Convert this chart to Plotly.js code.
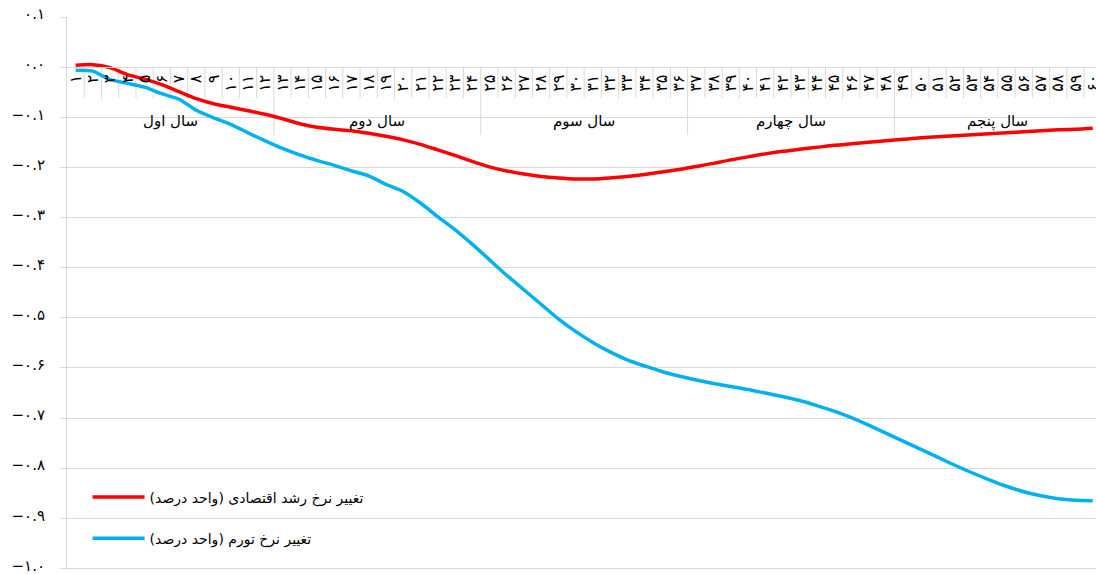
<!DOCTYPE html>
<html>
<head>
<meta charset="utf-8">
<script src="https://cdn.plot.ly/plotly-3.0.1.min.js"></script>
<style>
html,body{margin:0;padding:0;background:#fff;overflow:hidden;}
#chart{width:1096px;height:574px;}
</style>
</head>
<body>
<div id="chart"></div>
<script>
const months = ['۱','۲','۳','۴','۵','۶','۷','۸','۹','۱۰','۱۱','۱۲','۱۳','۱۴','۱۵','۱۶','۱۷','۱۸','۱۹','۲۰','۲۱','۲۲','۲۳','۲۴','۲۵','۲۶','۲۷','۲۸','۲۹','۳۰','۳۱','۳۲','۳۳','۳۴','۳۵','۳۶','۳۷','۳۸','۳۹','۴۰','۴۱','۴۲','۴۳','۴۴','۴۵','۴۶','۴۷','۴۸','۴۹','۵۰','۵۱','۵۲','۵۳','۵۴','۵۵','۵۶','۵۷','۵۸','۵۹','۶۰'];
const years = ['سال اول','سال دوم','سال سوم','سال چهارم','سال پنجم'];
const monthsPerYear = 12;

const growthChange = [0.004, 0.005, -0.001, -0.015, -0.024, -0.035, -0.049, -0.063, -0.073, -0.080,
  -0.087, -0.094, -0.103, -0.113, -0.120, -0.124, -0.127, -0.132, -0.138, -0.145,
  -0.154, -0.165, -0.176, -0.188, -0.199, -0.207, -0.213, -0.218, -0.221, -0.223,
  -0.223, -0.221, -0.218, -0.214, -0.209, -0.204, -0.198, -0.192, -0.185, -0.179,
  -0.173, -0.168, -0.164, -0.160, -0.156, -0.153, -0.150, -0.147, -0.144, -0.141,
  -0.139, -0.137, -0.135, -0.133, -0.131, -0.129, -0.127, -0.125, -0.124, -0.122];

const inflationChange = [-0.006, -0.008, -0.025, -0.032, -0.040, -0.053, -0.064, -0.086, -0.101, -0.114,
  -0.131, -0.147, -0.162, -0.175, -0.186, -0.196, -0.207, -0.217, -0.234, -0.248,
  -0.271, -0.298, -0.324, -0.353, -0.384, -0.415, -0.444, -0.473, -0.502, -0.527,
  -0.549, -0.568, -0.584, -0.596, -0.607, -0.616, -0.624, -0.631, -0.637, -0.643,
  -0.650, -0.657, -0.665, -0.675, -0.686, -0.699, -0.714, -0.730, -0.746, -0.762,
  -0.778, -0.794, -0.809, -0.823, -0.836, -0.847, -0.855, -0.861, -0.864, -0.865];

const seriesNames = ['تغییر نرخ رشد اقتصادی (واحد درصد)\u200F', 'تغییر نرخ تورم (واحد درصد)\u200F'];

const yTickVals = [0.1, 0, -0.1, -0.2, -0.3, -0.4, -0.5, -0.6, -0.7, -0.8, -0.9, -1.0];
const yTickText = ['۰.۱','۰.۰','−۰.۱','−۰.۲','−۰.۳','−۰.۴','−۰.۵','−۰.۶','−۰.۷','−۰.۸','−۰.۹','−۱.۰'];

const FONT = 'DejaVu Sans, Noto Sans, sans-serif';
const GRID = '#d9d9d9';
const yMin = -1.003, yMax = 0.1;

const traces = [
  {x: months, y: growthChange, name: seriesNames[0], type: 'scatter', mode: 'lines',
   line: {color: '#ff0000', width: 3.5, shape: 'spline', smoothing: 0.7}, legendgroup: 'a', hoverinfo: 'skip'},
  {x: months, y: inflationChange, name: seriesNames[1], type: 'scatter', mode: 'lines',
   line: {color: '#00b0f0', width: 3.5, shape: 'spline', smoothing: 0.7}, legendgroup: 'b', hoverinfo: 'skip'}
];

// category separators (axis decoration) and year group labels
const shapes = [];
for (let i = 1; i <= months.length; i++) {
  const isYear = i % monthsPerYear === 0;
  shapes.push({type: 'line', xref: 'x', yref: 'y', x0: i - 0.5, x1: i - 0.5,
    y0: 0, y1: isYear ? -0.135 : -0.062, line: {color: GRID, width: 1}, layer: 'below'});
}
const annotations = years.map((t, k) => ({
  text: t, xref: 'x', yref: 'y', x: k * monthsPerYear + (monthsPerYear - 1) / 2, y: -0.108,
  showarrow: false, font: {family: FONT, size: 15, color: '#000'}, xanchor: 'center', yanchor: 'middle'
}));

const layout = {
  width: 1096, height: 574,
  margin: {l: 67, r: 0, t: 17, b: 4},
  paper_bgcolor: '#fff', plot_bgcolor: '#fff',
  font: {family: FONT, size: 15, color: '#000'},
  showlegend: true,
  legend: {x: 0.02, y: 0.16, xanchor: 'left', yanchor: 'top', bgcolor: 'rgba(0,0,0,0)',
    font: {family: FONT, size: 14, color: '#000'}, traceorder: 'grouped', tracegroupgap: 20, itemwidth: 52},
  xaxis: {type: 'category', range: [-0.5, 59.19], anchor: 'free', position: (0 - yMin) / (yMax - yMin),
    showgrid: false, zeroline: false, showline: true, linecolor: GRID, linewidth: 1,
    ticks: '', tickmode: 'linear', tick0: 0, dtick: 1, tickangle: -90,
    tickfont: {family: FONT, size: 16, color: '#000'}, fixedrange: true, automargin: false},
  yaxis: {range: [yMin, yMax], tickmode: 'array', tickvals: yTickVals, ticktext: yTickText,
    showgrid: true, gridcolor: GRID, gridwidth: 1, zeroline: false, showline: true, linecolor: GRID,
    ticks: 'outside', ticklen: 6, tickcolor: GRID, ticklabelstandoff: 12, ticklabeloverflow: 'allow',
    ticklabelshift: -3,
    tickfont: {family: FONT, size: 15, color: '#000'}, fixedrange: true, automargin: false},
  shapes: shapes,
  annotations: annotations
};

Plotly.newPlot('chart', traces, layout, {displayModeBar: false, staticPlot: true});
</script>
</body>
</html>
